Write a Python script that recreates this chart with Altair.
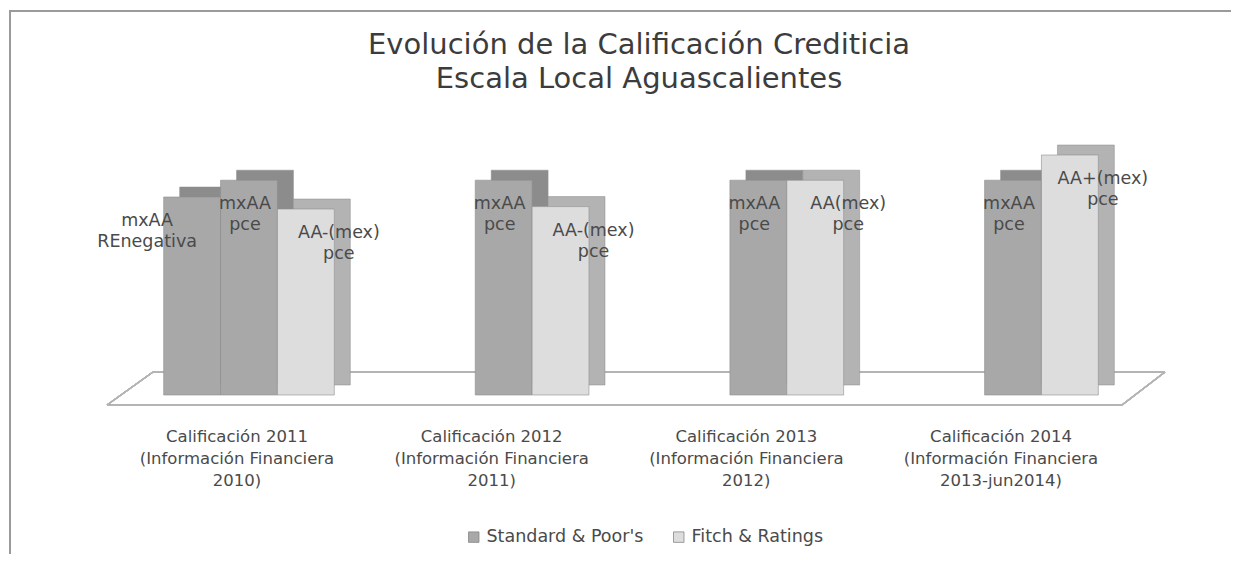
import altair as alt
import pandas as pd

# ---- data ----
title_lines = ["Evolución de la Calificación Crediticia", "Escala Local Aguascalientes"]
categories = ["Calificación 2011", "Calificación 2012", "Calificación 2013", "Calificación 2014"]
category_lines = [
    "Calificación 2011|(Información Financiera|2010)",
    "Calificación 2012|(Información Financiera|2011)",
    "Calificación 2013|(Información Financiera|2012)",
    "Calificación 2014|(Información Financiera|2013-jun2014)",
]
bar_category = ["Calificación 2011", "Calificación 2011", "Calificación 2011",
                "Calificación 2012", "Calificación 2012",
                "Calificación 2013", "Calificación 2013",
                "Calificación 2014", "Calificación 2014"]
bar_slot = ["a", "b", "c", "b", "c", "b", "c", "b", "c"]
bar_series = ["Standard & Poor's", "Standard & Poor's", "Fitch & Ratings",
              "Standard & Poor's", "Fitch & Ratings",
              "Standard & Poor's", "Fitch & Ratings",
              "Standard & Poor's", "Fitch & Ratings"]
bar_value = [8.25, 8.95, 7.75, 8.95, 7.85, 8.95, 8.95, 8.95, 10.0]
bar_label = ["mxAA\nREnegativa", "mxAA\npce", "AA-(mex)\npce",
             "mxAA\npce", "AA-(mex)\npce",
             "mxAA\npce", "AA(mex)\npce",
             "mxAA\npce", "AA+(mex)\npce"]
series = ["Standard & Poor's", "Fitch & Ratings"]

df = pd.DataFrame({
    "category": bar_category,
    "slot": bar_slot,
    "series": bar_series,
    "value": bar_value,
    "label": bar_label,
})
label_map = dict(zip(categories, category_lines))
title_df = pd.DataFrame({"line": title_lines, "row": [0, 1]})

FONT = "DejaVu Sans"
TXT = "#4a4a4a"
W, H = 1062, 252
PI, PO = 0.33, 0.25
step = W / (4 - PI + 2 * PO)
band = step * (1 - PI)
DEPTH_X, DEPTH_Y = 16, -10
SLOTS = ["a", "b", "c"]

x_enc = alt.X("category:N", sort=categories, title=None,
              scale=alt.Scale(paddingInner=PI, paddingOuter=PO),
              axis=alt.Axis(
                  labelExpr="split(" + repr(label_map).replace("'", '"') + "[datum.label], '|')",
                  domain=False, ticks=False, labelAngle=0, labelPadding=33,
                  labelFont=FONT, labelFontSize=16.5, labelColor=TXT, labelLimit=0,
                  labelLineHeight=22, labelOffset=-12, labelBaseline="top"))
xo_enc = alt.XOffset("slot:N", scale=alt.Scale(domain=SLOTS, paddingInner=0, paddingOuter=0))
xo_side = alt.XOffset("slot:N", scale=alt.Scale(domain=SLOTS, paddingInner=0, paddingOuter=0,
                                                range=[DEPTH_X, DEPTH_X + band]))
xo_text = alt.XOffset("slot:N", scale=alt.Scale(type="point", domain=SLOTS, padding=0.5))
y_enc = alt.Y("value:Q", scale=alt.Scale(domain=[0, 10.5]), axis=None)

base = alt.Chart(df)

# decorative frame and floor
frame = alt.Chart(df).mark_rect(fill=None, stroke="#9a9a9a", strokeWidth=1.5).encode(
    x=alt.value(-90), x2=alt.value(1300), y=alt.value(-132), y2=alt.value(600))
fl = alt.Chart(df).mark_rule(color="#b4b4b4", strokeWidth=1.1)
floor = alt.layer(
    fl.encode(x=alt.value(7), x2=alt.value(1022), y=alt.value(262), y2=alt.value(262)),
    fl.encode(x=alt.value(53), x2=alt.value(1065), y=alt.value(229), y2=alt.value(229)),
    fl.encode(x=alt.value(7), x2=alt.value(53), y=alt.value(262), y2=alt.value(229)),
    fl.encode(x=alt.value(1022), x2=alt.value(1065), y=alt.value(262), y2=alt.value(229)),
)

side = base.mark_bar(yOffset=DEPTH_Y, stroke="#8a8a8a", strokeWidth=0.5).encode(
    x=x_enc, xOffset=xo_side, y=y_enc,
    color=alt.condition(alt.datum.series == "Standard & Poor's",
                        alt.value("#8c8c8c"), alt.value("#b3b3b3")),
)
front = base.mark_bar(stroke="#8f8f8f", strokeWidth=0.6).encode(
    x=x_enc, xOffset=xo_enc, y=y_enc,
    color=alt.Color("series:N", sort=series,
                    scale=alt.Scale(domain=series, range=["#a8a8a8", "#dddddd"]),
                    legend=alt.Legend(title=None, orient="none", direction="horizontal",
                                      legendX=365, legendY=385, labelLimit=0,
                                      labelFont=FONT, labelFontSize=17.5, labelColor=TXT,
                                      symbolType="square", symbolSize=110,
                                      symbolStrokeColor="#888", symbolStrokeWidth=0.8,
                                      columnPadding=26, labelOffset=4)),
)

def labels(cond, dx):
    return base.transform_filter(cond).mark_text(
        lineBreak="\n", baseline="top", dy=15, dx=dx, font=FONT, fontSize=17.5,
        color=TXT, lineHeight=21
    ).encode(x=x_enc, xOffset=xo_text, y=y_enc, text="label:N")

text_a = labels(alt.datum.slot == "a", -45)
text_b = labels(alt.datum.slot == "b", -4)
text_c = labels(alt.datum.slot == "c", 33)

title = alt.Chart(title_df).mark_text(
    font=FONT, fontSize=29, color="#3c3c3c", align="center", baseline="alphabetic"
).encode(
    x=alt.value(539),
    y=alt.Y("row:Q", scale=alt.Scale(domain=[0, 1], range=[-89, -55]), axis=None),
    text="line:N",
)

chart = alt.layer(frame, floor, side, front, text_a, text_b, text_c, title).resolve_scale(
    xOffset="independent", y="independent"
).properties(
    width=W, height=H,
    autosize=alt.AutoSizeParams(type="none"),
    padding={"left": 92, "top": 135, "right": 69, "bottom": 159},
).configure(background="white", view=alt.ViewConfig(strokeWidth=0, stroke="transparent"))

chart.save("out.html", embed_options={"renderer": "svg", "actions": False})
